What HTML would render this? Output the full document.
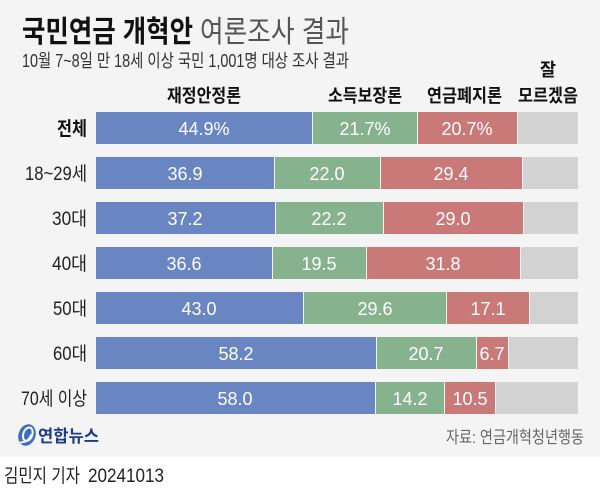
<!DOCTYPE html>
<html><head><meta charset="utf-8"><style>
html,body{margin:0;padding:0;background:#fff;}
svg{display:block;}
text{font-family:"Liberation Sans","Noto Sans CJK KR",sans-serif;}
</style></head><body>
<svg width="600" height="497" viewBox="0 0 600 497" xmlns="http://www.w3.org/2000/svg">
<rect x="0" y="0" width="600" height="457" fill="#f4f4f4"/>
<rect x="0" y="457" width="600" height="40" fill="#ffffff"/>

<text x="22" y="42" font-size="30" font-weight="bold" fill="#111" textLength="171" lengthAdjust="spacingAndGlyphs">국민연금 개혁안</text>
<text x="200" y="42" font-size="30" fill="#555" textLength="149" lengthAdjust="spacingAndGlyphs">여론조사 결과</text>
<text x="22" y="67" font-size="18" fill="#333" textLength="327" lengthAdjust="spacingAndGlyphs">10월 7~8일 만 18세 이상 국민 1,001명 대상 조사 결과</text>

<g font-size="18" font-weight="bold" fill="#111">
<text x="167" y="102" textLength="74" lengthAdjust="spacingAndGlyphs">재정안정론</text>
<text x="328" y="102" textLength="74" lengthAdjust="spacingAndGlyphs">소득보장론</text>
<text x="427" y="102" textLength="75" lengthAdjust="spacingAndGlyphs">연금폐지론</text>
<text x="540" y="76" textLength="16" lengthAdjust="spacingAndGlyphs">잘</text>
<text x="518" y="102" textLength="60" lengthAdjust="spacingAndGlyphs">모르겠음</text>
</g>

<g>
<rect x="96" y="112" width="216" height="32" fill="#6a86c2"/>
<rect x="313" y="112" width="104" height="32" fill="#87b28e"/>
<rect x="418" y="112" width="99" height="32" fill="#c97a78"/>
<rect x="518" y="112" width="60" height="32" fill="#d2d2d2"/>
</g>
<g>
<rect x="96" y="157" width="178" height="32" fill="#6a86c2"/>
<rect x="275" y="157" width="105" height="32" fill="#87b28e"/>
<rect x="381" y="157" width="141" height="32" fill="#c97a78"/>
<rect x="523" y="157" width="55" height="32" fill="#d2d2d2"/>
</g>
<g>
<rect x="96" y="202" width="179" height="32" fill="#6a86c2"/>
<rect x="276" y="202" width="107" height="32" fill="#87b28e"/>
<rect x="384" y="202" width="139" height="32" fill="#c97a78"/>
<rect x="524" y="202" width="54" height="32" fill="#d2d2d2"/>
</g>
<g>
<rect x="96" y="247" width="176" height="32" fill="#6a86c2"/>
<rect x="273" y="247" width="93" height="32" fill="#87b28e"/>
<rect x="367" y="247" width="153" height="32" fill="#c97a78"/>
<rect x="521" y="247" width="57" height="32" fill="#d2d2d2"/>
</g>
<g>
<rect x="96" y="292" width="207" height="32" fill="#6a86c2"/>
<rect x="304" y="292" width="142" height="32" fill="#87b28e"/>
<rect x="447" y="292" width="82" height="32" fill="#c97a78"/>
<rect x="530" y="292" width="48" height="32" fill="#d2d2d2"/>
</g>
<g>
<rect x="96" y="337" width="280" height="32" fill="#6a86c2"/>
<rect x="377" y="337" width="99" height="32" fill="#87b28e"/>
<rect x="477" y="337" width="31" height="32" fill="#c97a78"/>
<rect x="509" y="337" width="69" height="32" fill="#d2d2d2"/>
</g>
<g>
<rect x="96" y="382" width="279" height="32" fill="#6a86c2"/>
<rect x="376" y="382" width="68" height="32" fill="#87b28e"/>
<rect x="445" y="382" width="50" height="32" fill="#c97a78"/>
<rect x="496" y="382" width="82" height="32" fill="#d2d2d2"/>
</g>

<g font-size="18" fill="#fff" text-anchor="middle">
<text x="204" y="135">44.9%</text>
<text x="365" y="135">21.7%</text>
<text x="467" y="135">20.7%</text>

<text x="185" y="180">36.9</text>
<text x="327" y="180">22.0</text>
<text x="451" y="180">29.4</text>

<text x="185" y="225">37.2</text>
<text x="329" y="225">22.2</text>
<text x="453" y="225">29.0</text>

<text x="184" y="270">36.6</text>
<text x="319" y="270">19.5</text>
<text x="443" y="270">31.8</text>

<text x="199" y="315">43.0</text>
<text x="375" y="315">29.6</text>
<text x="488" y="315">17.1</text>

<text x="236" y="360">58.2</text>
<text x="426" y="360">20.7</text>
<text x="492" y="360">6.7</text>

<text x="235" y="405">58.0</text>
<text x="410" y="405">14.2</text>
<text x="470" y="405">10.5</text>
</g>

<g font-size="19" fill="#222">
<text x="57" y="135" font-weight="bold" fill="#111" textLength="30" lengthAdjust="spacingAndGlyphs">전체</text>
<text x="25" y="180" textLength="62" lengthAdjust="spacingAndGlyphs">18~29세</text>
<text x="52" y="225" textLength="35" lengthAdjust="spacingAndGlyphs">30대</text>
<text x="52" y="270" textLength="35" lengthAdjust="spacingAndGlyphs">40대</text>
<text x="53" y="315" textLength="34" lengthAdjust="spacingAndGlyphs">50대</text>
<text x="53" y="360" textLength="34" lengthAdjust="spacingAndGlyphs">60대</text>
<text x="21" y="405" textLength="66" lengthAdjust="spacingAndGlyphs">70세 이상</text>
</g>

<!-- logo -->
<g transform="translate(27,435) rotate(20)">
<ellipse cx="0" cy="0" rx="8.5" ry="11" fill="#3c6fc2"/>
<ellipse cx="0.5" cy="-1" rx="4.5" ry="7" fill="none" stroke="#fff" stroke-width="2"/>
<path d="M4 -2 Q3 8 -4 9" fill="none" stroke="#fff" stroke-width="1.8"/>
</g>
<text x="38" y="442" font-size="17" font-weight="bold" fill="#1e3c8c" textLength="61" lengthAdjust="spacingAndGlyphs">연합뉴스</text>
<text x="446" y="443" font-size="17" fill="#666" textLength="138" lengthAdjust="spacingAndGlyphs">자료: 연금개혁청년행동</text>

<text x="4" y="482" font-size="19" fill="#222" textLength="76" lengthAdjust="spacingAndGlyphs">김민지 기자</text>
<text x="88" y="482" font-size="19" fill="#222" textLength="76" lengthAdjust="spacingAndGlyphs">20241013</text>
</svg>
</body></html>
